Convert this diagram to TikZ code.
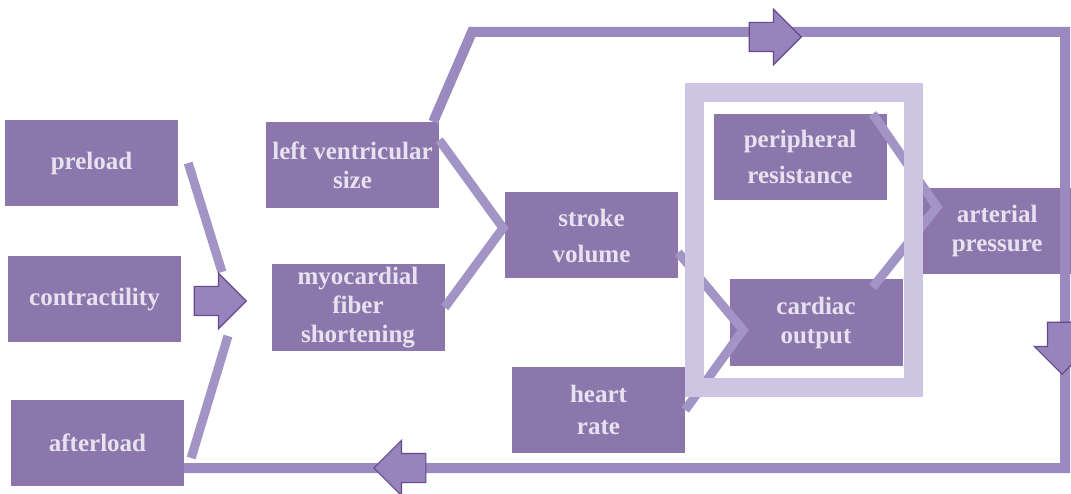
\documentclass[tikz,border=0pt]{standalone}
\usepackage{fontspec}
\setmainfont{Liberation Serif}
\usepackage{xcolor}
\usepackage{tikz}
\usetikzlibrary{shapes.arrows}

\definecolor{boxpurple}{RGB}{139,119,171}
\definecolor{boxtext}{RGB}{232,226,240}
\definecolor{linkpurple}{RGB}{163,148,198}
\definecolor{looppurple}{RGB}{155,138,192}
\definecolor{framelilac}{RGB}{206,197,226}
\definecolor{arrowfill}{RGB}{152,131,188}
\definecolor{arrowedge}{RGB}{98,74,140}

\begin{document}
\begin{tikzpicture}[x=1pt, y=-1pt,
    box/.style={rectangle, fill=boxpurple, text=boxtext, minimum width=173pt, minimum height=86pt, inner sep=0pt, align=center, font=\fontsize{25}{29}\selectfont\bfseries},
    link/.style={draw=linkpurple, line width=9pt},
    loopline/.style={draw=looppurple, line width=10pt, line join=miter},
    blockarrow/.style={shape=single arrow, fill=arrowfill, draw=arrowedge, line width=1.2pt, minimum height=52pt, inner xsep=0pt, inner ysep=14pt, single arrow head extend=13pt, anchor=tip},
    frame/.style={rectangle, draw=framelilac, line width=19pt, minimum width=219pt, minimum height=294pt}]
    \useasboundingbox (0,0) rectangle (1071,494);

    \node [box] (preload) at (91.5,163) {preload};
    \node [box] (contract) at (94.5,299.5) {contractility};
    \node [box] (afterload) at (97.5,443) {afterload};
    \node [box] (lvsize) at (352.5,165) {left ventricular\\size};
    \node [box] (myofiber) at (358,307.5) {myocardial\\fiber\\shortening};
    \node [box] (stroke) at (591.5,235.5) {stroke\\[7pt]volume};
    \node [box] (heartrate) at (598.5,410) {heart\\[3pt]rate};
    \node [box] (periph) at (800,157) {peripheral\\[7pt]resistance};
    \node [box] (cardiac) at (816,322.5) {cardiac\\output};
    \node [box, minimum width=150pt, anchor=west] (arterial) at (922,231) {arterial\\pressure};

    \coordinate (upin) at (222,272);
    \coordinate (lowin) at (228,336);
    \coordinate (svin) at (503,228);
    \coordinate (coin) at (743,330);
    \coordinate (apin) at (937,207);
    \coordinate (topleft) at (472,32);
    \coordinate (topright) at (1065,32);
    \coordinate (botright) at (1065,468);

    \draw [link] ([xshift=10pt]preload.east) -- (upin);
    \draw [link] ([xshift=7pt, yshift=-15pt]afterload.east) -- (lowin);
    \draw [link] ([yshift=25pt]lvsize.east) -- (svin) -- (myofiber.east);
    \draw [link] ([yshift=-17pt]stroke.east) -- (coin) -- (heartrate.east);
    \draw [link] ([xshift=-14pt]periph.north east) -- (apin) -- ([xshift=-30pt, yshift=-8pt]cardiac.north east);
    \draw [loopline] ([xshift=-6pt]lvsize.north east) -- (topleft) -- (topright) -- (botright) -- (botright -| afterload.east);

    \node [frame] (loopframe) at (803.5,240) {};

    \node [blockarrow] (inarrow) at (247,301) {};
    \node [blockarrow] (toparrow) at (802,37) {};
    \node [blockarrow, rotate=-90] (downarrow) at (1062,375) {};
    \node [blockarrow, rotate=180] (backarrow) at (373,468) {};
\end{tikzpicture}
\end{document}
